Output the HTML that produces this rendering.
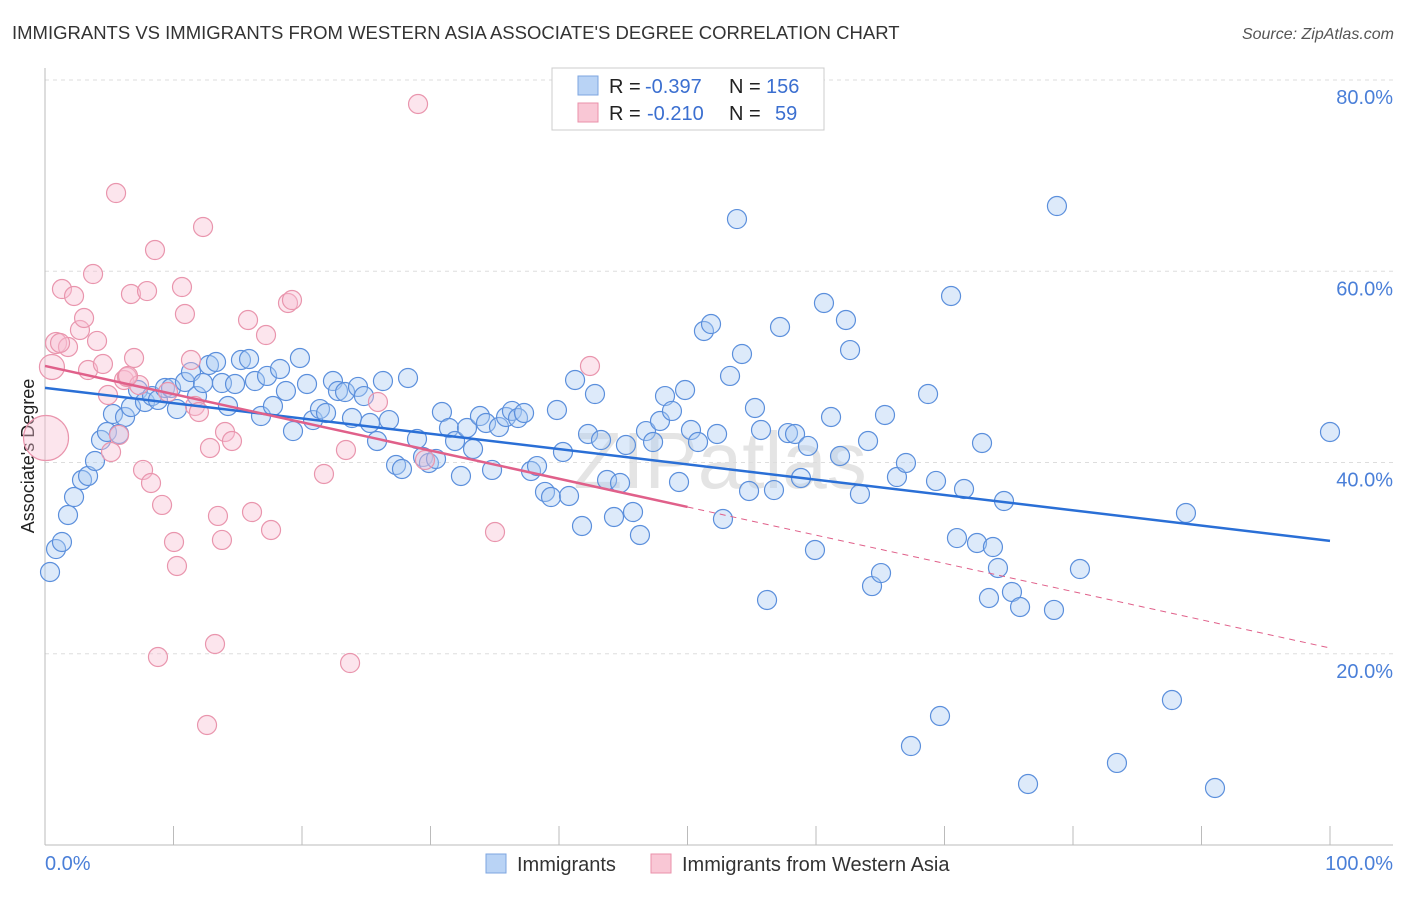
<!DOCTYPE html>
<html><head><meta charset="utf-8">
<style>
body{margin:0;background:#fff;font-family:"Liberation Sans",sans-serif;}
svg text{font-family:"Liberation Sans",sans-serif;}
</style></head>
<body>
<svg id="chart" width="1406" height="892" viewBox="0 0 1406 892">
<text x="12" y="39" font-size="18.5" fill="#333">IMMIGRANTS VS IMMIGRANTS FROM WESTERN ASIA ASSOCIATE'S DEGREE CORRELATION CHART</text>
<text x="1394" y="39" font-size="16" fill="#555" text-anchor="end" font-style="italic">Source: ZipAtlas.com</text>
<text x="34" y="456" font-size="18" fill="#222" text-anchor="middle" transform="rotate(-90 34 456)">Associate's Degree</text>
<text x="720" y="488" font-size="80" fill="#e4e4e4" text-anchor="middle" font-family="Liberation Serif">ZIPatlas</text>
<g id="grid"></g>
<g id="axes"></g>
<g id="pts"></g>
<g id="trends"></g>
<g>
<rect x="552" y="68" width="272" height="62" fill="#fff" stroke="#ccc"/>
<rect x="578" y="76" width="20" height="19" fill="#b9d3f5" stroke="#7da6e0"/>
<rect x="578" y="103" width="20" height="19" fill="#f9c7d5" stroke="#ea90aa"/>
<text x="609" y="93" font-size="20" fill="#222">R =</text>
<text x="645" y="93" font-size="20" fill="#3b6fd0">-0.397</text>
<text x="729" y="93" font-size="20" fill="#222">N =</text>
<text x="766" y="93" font-size="20" fill="#3b6fd0">156</text>
<text x="609" y="120" font-size="20" fill="#222">R =</text>
<text x="647" y="120" font-size="20" fill="#3b6fd0">-0.210</text>
<text x="729" y="120" font-size="20" fill="#222">N =</text>
<text x="775" y="120" font-size="20" fill="#3b6fd0">59</text>
</g>
<g>
<rect x="486" y="854" width="20" height="19" fill="#b9d3f5" stroke="#7da6e0"/>
<text x="517" y="871" font-size="20" fill="#333">Immigrants</text>
<rect x="651" y="854" width="20" height="19" fill="#f9c7d5" stroke="#ea90aa"/>
<text x="682" y="871" font-size="20" fill="#333">Immigrants from Western Asia</text>
</g>
</svg>
<script>
const NS="http://www.w3.org/2000/svg";
const yTicks=[20,40,60,80];
const yTickLabels=["20.0%","40.0%","60.0%","80.0%"];
const xTicks=[0,10,20,30,40,50,60,70,80,90,100];
const bluePx=[[50,572],[56,549],[62,542],[68,515],[74,497],[82,480],[88,476],[95,461],[101,440],[107,432],[113,414],[119,434],[125,417],[131,407],[138,390],[145,402],[152,396],[158,400],[165,388],[171,388],[177,409],[185,382],[191,372],[197,396],[203,383],[209,365],[216,362],[222,383],[228,406],[235,384],[241,360],[249,359],[255,381],[261,416],[267,376],[273,406],[280,369],[286,391],[293,431],[300,358],[307,384],[313,420],[320,409],[326,413],[333,381],[338,391],[345,392],[352,418],[358,387],[364,396],[370,423],[377,441],[383,381],[389,420],[396,465],[402,469],[408,378],[417,439],[423,457],[429,463],[436,459],[442,412],[449,428],[455,441],[461,476],[467,428],[473,449],[480,416],[486,423],[492,470],[499,427],[506,417],[512,411],[518,418],[524,413],[531,471],[537,466],[545,492],[551,497],[557,410],[563,452],[569,496],[575,380],[582,526],[588,434],[595,394],[601,440],[607,480],[614,517],[620,483],[626,445],[633,512],[640,535],[646,431],[653,442],[660,421],[665,396],[672,411],[679,482],[685,390],[691,430],[698,442],[704,331],[711,324],[717,434],[723,519],[730,376],[737,219],[742,354],[749,491],[755,408],[761,430],[767,600],[774,490],[780,327],[788,433],[795,434],[801,478],[808,446],[815,550],[824,303],[831,417],[840,456],[846,320],[850,350],[860,494],[868,441],[872,586],[881,573],[885,415],[897,477],[906,463],[911,746],[928,394],[936,481],[940,716],[951,296],[957,538],[964,489],[977,543],[982,443],[989,598],[993,547],[998,568],[1004,501],[1012,592],[1020,607],[1054,610],[1057,206],[1080,569],[1117,763],[1172,700],[1186,513],[1215,788],[1330,432],[1028,784]];
const pinkPx=[[52,367,12],[46,438,22],[56,343,10],[62,289,9],[68,347,9],[74,296,9],[80,330,9],[84,318,9],[88,370,9],[93,274,9],[97,341,9],[103,364,9],[108,395,9],[111,452,9],[116,193,9],[119,435,9],[124,380,9],[127,377,9],[131,294,9],[134,358,9],[139,385,9],[143,470,9],[147,291,9],[151,483,9],[155,250,9],[158,657,9],[162,505,9],[168,392,9],[174,542,9],[177,566,9],[182,287,9],[185,314,9],[191,360,9],[195,406,9],[199,412,9],[203,227,9],[207,725,9],[210,448,9],[215,644,9],[218,516,9],[222,540,9],[225,432,9],[232,441,9],[248,320,9],[252,512,9],[266,335,9],[271,530,9],[288,303,9],[292,300,9],[324,474,9],[346,450,9],[350,663,9],[378,402,9],[418,104,9],[425,460,9],[495,532,9],[590,366,9],[128,376,9],[60,343,9]];
const blueX=bluePx.map(p=>+((p[0]-45)/12.85).toFixed(2));
const blueY=bluePx.map(p=>+((845-p[1])/9.5625).toFixed(2));
const pinkX=pinkPx.map(p=>+((p[0]-45)/12.85).toFixed(2));
const pinkY=pinkPx.map(p=>+((845-p[1])/9.5625).toFixed(2));
const pinkSize=pinkPx.map(p=>p[2]);
const blueTrend=[47.8,31.8];
const pinkTrend=[50.1,20.6];
const X=v=>45+v*12.85, Y=v=>845-v*9.5625;
function mk(tag,attrs,parent){const e=document.createElementNS(NS,tag);for(const k in attrs)e.setAttribute(k,attrs[k]);parent.appendChild(e);return e;}
const grid=document.getElementById('grid'),axes=document.getElementById('axes'),pts=document.getElementById('pts'),tr=document.getElementById('trends');
yTicks.forEach((t,i)=>{
 const l=mk('line',{x1:45,x2:1393,y1:Y(t),y2:Y(t),stroke:'#ddd','stroke-dasharray':'4,4'},grid);
 
 
 const tx=mk('text',{x:1393,y:Y(t)+24,'font-size':20,fill:'#4a7fd8','text-anchor':'end'},grid);
 tx.textContent=yTickLabels[i];
 
 
});
const ya=mk('line',{x1:45,x2:45,y1:68,y2:845,stroke:'#bbb'},axes);


const xa=mk('line',{x1:45,x2:1393,y1:845,y2:845,stroke:'#bbb'},axes);


xTicks.forEach(t=>{
 const l=mk('line',{x1:X(t),x2:X(t),y1:826,y2:845,stroke:'#bbb'},axes);
 
 
});
const x0=mk('text',{x:45,y:870,'font-size':20,fill:'#4a7fd8'},axes);x0.textContent='0.0%';


const x1=mk('text',{x:1393,y:870,'font-size':20,fill:'#4a7fd8','text-anchor':'end'},axes);x1.textContent='100.0%';


blueX.forEach((v,i)=>{
 const c=mk('circle',{cx:X(v),cy:Y(blueY[i]),r:9.5,fill:'rgba(170,202,242,0.4)',stroke:'#5b8fdc','stroke-width':1.2},pts);
 
 
});
pinkX.forEach((v,i)=>{
 const c=mk('circle',{cx:X(v),cy:Y(pinkY[i]),r:pinkSize[i]+0.5,fill:'rgba(248,190,210,0.4)',stroke:'#e995ad','stroke-width':1.2},pts);
 
 
});
const bl=mk('line',{x1:X(0),y1:Y(blueTrend[0]),x2:X(100),y2:Y(blueTrend[1]),stroke:'#2a6fd6','stroke-width':2.5},tr);


const pm=pinkTrend[0]+(pinkTrend[1]-pinkTrend[0])*0.5;
const pl=mk('line',{x1:X(0),y1:Y(pinkTrend[0]),x2:X(50),y2:Y(pm),stroke:'#e0608a','stroke-width':2.5},tr);


const pd=mk('line',{x1:X(50),y1:Y(pm),x2:X(100),y2:Y(pinkTrend[1]),stroke:'#e0608a','stroke-width':1,'stroke-dasharray':'6,5'},tr);


</script>
</body></html>
